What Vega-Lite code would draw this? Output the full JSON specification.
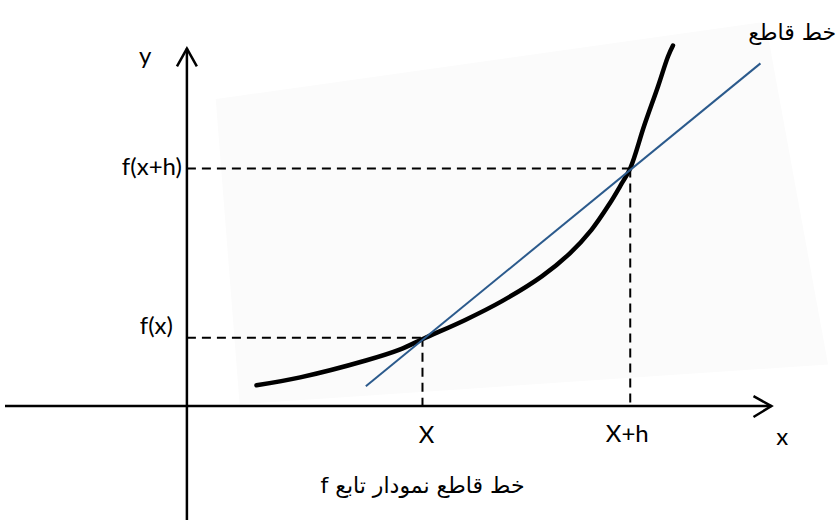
{
  "$schema": "https://vega.github.io/schema/vega-lite/v6.json",
  "width": 836,
  "height": 525,
  "autosize": {"type": "fit", "contains": "padding"},
  "padding": 0,
  "background": "white",
  "config": {"view": {"stroke": null}},
  "datasets": {
    "bg": [
      {"x": 0.29, "y": 3.10, "y2": 3.10},
      {"x": 0.53, "y": 3.134, "y2": 0.02},
      {"x": 5.82, "y": 3.88, "y2": 0.377},
      {"x": 6.45, "y": 0.42, "y2": 0.42}
    ],
    "dashes": [
      {"seg": "h1", "i": 0, "x": 0, "y": 0.69},
      {"seg": "h1", "i": 1, "x": 2.37, "y": 0.69},
      {"seg": "v1", "i": 0, "x": 2.37, "y": 0.69},
      {"seg": "v1", "i": 1, "x": 2.37, "y": 0},
      {"seg": "h2", "i": 0, "x": 0, "y": 2.40},
      {"seg": "h2", "i": 1, "x": 4.46, "y": 2.40},
      {"seg": "v2", "i": 0, "x": 4.46, "y": 2.40},
      {"seg": "v2", "i": 1, "x": 4.46, "y": 0}
    ],
    "axes": [
      {"seg": "xa", "i": 0, "x": -1.83, "y": 0},
      {"seg": "xa", "i": 1, "x": 5.88, "y": 0},
      {"seg": "xh", "i": 0, "x": 5.70, "y": 0.10},
      {"seg": "xh", "i": 1, "x": 5.88, "y": 0},
      {"seg": "xh", "i": 2, "x": 5.70, "y": -0.11},
      {"seg": "ya", "i": 0, "x": 0, "y": -1.15},
      {"seg": "ya", "i": 1, "x": 0, "y": 3.61},
      {"seg": "yh", "i": 0, "x": -0.10, "y": 3.43},
      {"seg": "yh", "i": 1, "x": 0, "y": 3.61},
      {"seg": "yh", "i": 2, "x": 0.10, "y": 3.43}
    ],
    "curve": [
      {"x": 0.70, "y": 0.21},
      {"x": 1.14, "y": 0.29},
      {"x": 1.80, "y": 0.46},
      {"x": 2.14, "y": 0.57},
      {"x": 2.40, "y": 0.69},
      {"x": 2.80, "y": 0.87},
      {"x": 3.17, "y": 1.06},
      {"x": 3.57, "y": 1.31},
      {"x": 3.85, "y": 1.54},
      {"x": 4.07, "y": 1.78},
      {"x": 4.25, "y": 2.04},
      {"x": 4.37, "y": 2.24},
      {"x": 4.46, "y": 2.40},
      {"x": 4.60, "y": 2.83},
      {"x": 4.74, "y": 3.23},
      {"x": 4.84, "y": 3.53},
      {"x": 4.89, "y": 3.64}
    ],
    "secant": [
      {"x": 1.80, "y": 0.20},
      {"x": 5.77, "y": 3.46}
    ],
    "latinC": [
      {"label": "y", "x": -0.42, "y": 3.52},
      {"label": "x", "x": 5.99, "y": -0.32},
      {"label": "X", "x": 2.41, "y": -0.30},
      {"label": "X+h", "x": 4.43, "y": -0.29}
    ],
    "latinR": [
      {"label": "f(x)", "x": -0.14, "y": 0.80},
      {"label": "f(x+h)", "x": -0.05, "y": 2.40}
    ],
    "arabic": [
      {"label": "خط قاطع", "x": 6.09, "y": 3.77},
      {"label": "‫خط قاطع نمودار تابع f‬", "x": 2.37, "y": -0.81}
    ]
  },
  "encoding": {
    "x": {"field": "x", "type": "quantitative", "scale": {"domain": [-1.83, 6.53], "nice": false, "zero": false}, "axis": null},
    "y": {"field": "y", "type": "quantitative", "scale": {"domain": [-1.15, 4.10], "nice": false, "zero": false}, "axis": null}
  },
  "layer": [
    {
      "data": {"name": "bg"},
      "mark": {"type": "area", "color": "#fbfbfb", "orient": "vertical"},
      "encoding": {"y2": {"field": "y2"}}
    },
    {
      "data": {"name": "dashes"},
      "mark": {"type": "line", "color": "black", "strokeWidth": 2, "strokeDash": [9, 6]},
      "encoding": {"detail": {"field": "seg"}, "order": {"field": "i"}}
    },
    {
      "data": {"name": "axes"},
      "mark": {"type": "line", "color": "black", "strokeWidth": 2.5},
      "encoding": {"detail": {"field": "seg"}, "order": {"field": "i"}}
    },
    {
      "data": {"name": "curve"},
      "mark": {"type": "line", "color": "black", "strokeWidth": 4.5, "interpolate": "catmull-rom", "strokeCap": "round"},
      "encoding": {}
    },
    {
      "data": {"name": "secant"},
      "mark": {"type": "line", "color": "#2b5a8c", "strokeWidth": 2},
      "encoding": {}
    },
    {
      "data": {"name": "latinC"},
      "mark": {"type": "text", "font": "Lato", "fontSize": 24, "color": "black", "align": "center", "baseline": "middle"},
      "encoding": {"text": {"field": "label"}}
    },
    {
      "data": {"name": "latinR"},
      "mark": {"type": "text", "font": "Lato", "fontSize": 24, "color": "black", "align": "right", "baseline": "middle"},
      "encoding": {"text": {"field": "label"}}
    },
    {
      "data": {"name": "arabic"},
      "mark": {"type": "text", "font": "DejaVu Sans", "fontSize": 22, "color": "black", "align": "center", "baseline": "middle"},
      "encoding": {"text": {"field": "label"}}
    }
  ]
}
